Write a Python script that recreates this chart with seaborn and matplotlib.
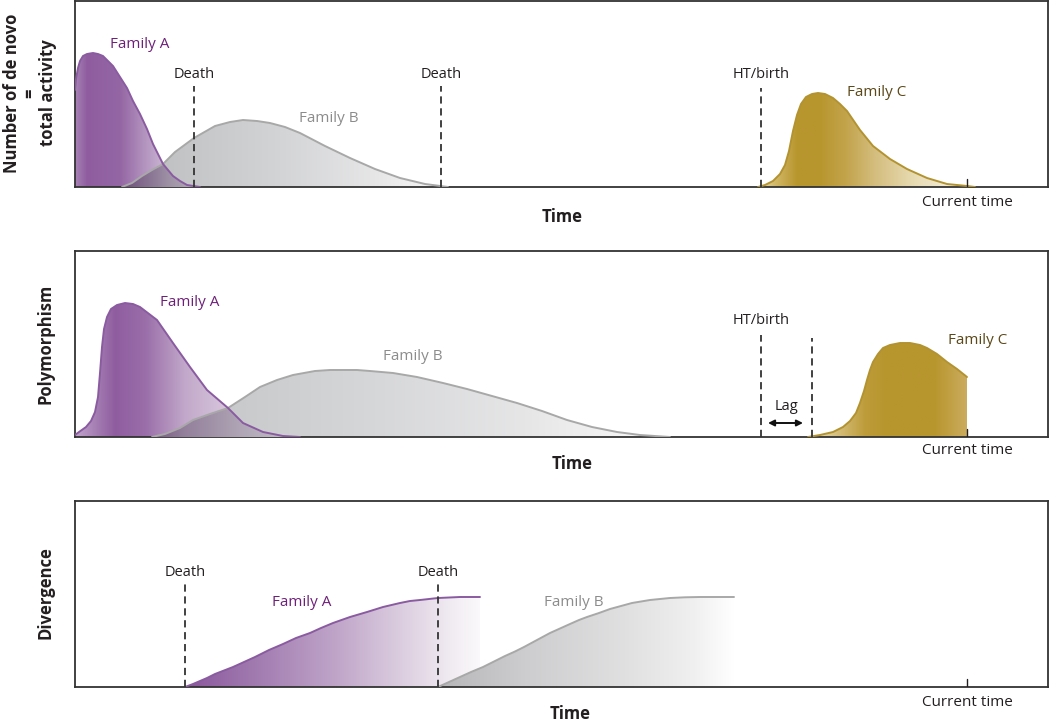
import numpy as np
import matplotlib
matplotlib.use("Agg")
import matplotlib.pyplot as plt
import matplotlib.colors as mcolors
from matplotlib.patches import Polygon
import seaborn as sns

# time axis runs 0..973, curve heights 0..186 (arbitrary units)
# panel 1: number of de novo insertions = total activity
a1_t = [0, 1, 3, 5, 8, 12, 18, 23, 28, 33, 38, 45, 52, 58, 65, 72, 78, 88, 98, 105, 112, 125]
a1_v = [97, 108, 119, 126, 131, 133, 134, 133, 131, 126, 121, 110, 99, 86, 73, 58, 43, 23, 11, 6, 2, 0]
b1_t = [47, 57, 67, 77, 88, 100, 119, 140, 155, 168, 182, 195, 210, 225, 250, 275, 300, 325, 350, 373]
b1_v = [0, 4, 11, 17, 23, 35, 49, 61, 65, 67, 66, 64, 60, 54, 41, 29, 18, 9, 3, 0]
c1_t = [683, 690, 698, 705, 710, 714, 718, 722, 726, 731, 737, 743, 750, 758, 765, 772, 785, 798, 815,
        832, 852, 872, 892, 900]
c1_v = [0, 2, 6, 13, 22, 36, 56, 72, 83, 90, 93, 94, 93, 89, 83, 76, 57, 41, 28, 18, 9, 3, 1, 0]
ab1_cross = 88
p1_deaths = [119, 366]
p1_birth = [686]

# panel 2: polymorphism
a2_t = [0, 4, 11, 16, 20, 23, 25, 27, 29, 32, 36, 42, 50, 58, 65, 82, 98, 115, 132, 153, 168, 188, 208, 225]
a2_v = [2, 5, 10, 16, 25, 40, 64, 90, 108, 120, 128, 132, 134, 133, 130, 117, 94, 70, 47, 29, 14, 5, 1, 0]
b2_t = [77, 90, 105, 118, 135, 153, 170, 185, 202, 218, 240, 255, 268, 282, 295, 318, 342, 368, 392, 417,
        442, 467, 492, 517, 542, 565, 595]
b2_v = [0, 3, 9, 17, 23, 29, 40, 50, 57, 62, 66, 67, 67, 67, 66, 64, 60, 54, 48, 41, 34, 26, 17, 10, 5, 2, 0]
c2_t = [733, 745, 758, 768, 775, 781, 785, 789, 792, 795, 798, 803, 808, 815, 825, 835, 845, 852, 862, 872,
        882, 892]
c2_v = [0, 2, 5, 10, 16, 24, 34, 46, 57, 67, 75, 83, 89, 92, 94, 94, 92, 89, 83, 75, 68, 60]
ab2_cross = 153
p2_birth = [686, 737]

# panel 3: divergence
a3_t = [110, 118, 125, 132, 140, 149, 158, 169, 180, 194, 208, 221, 235, 246, 258, 275, 292, 308, 325,
        335, 345, 354, 363, 374, 385, 395, 405]
a3_v = [0, 3, 6, 9, 13, 16.5, 20, 25, 30, 37, 43, 49, 54, 59, 64, 70, 75, 80, 84, 86, 87, 88, 89, 89.5,
        90, 90, 90]
b3_t = [363, 374, 385, 396, 408, 419, 430, 440, 449, 462, 475, 485, 495, 504, 512, 524, 535, 546, 557,
        566, 575, 585, 595, 610, 625, 642, 659]
b3_v = [0, 5, 10, 15, 20, 25.5, 31, 35.5, 40, 47, 54, 58.5, 63, 67, 70, 74, 78, 81, 84, 85.5, 87, 88, 89,
        89.7, 90, 90, 90]
p3_deaths = [110, 363]

current_time = 892

PURPLE_LINE = '#8a5ba0'
GRAY_LINE = '#a8a8a8'
GOLD_LINE = '#b39330'
PURPLE_TXT = '#6e2179'
GRAY_TXT = '#8c8c8c'
GOLD_TXT = '#5c4818'
INK = '#231f20'


def ramp(stops, cols):
    pos = [p for p, _ in stops]
    rgb = np.array([mcolors.to_rgb(c) for _, c in stops])
    return np.stack([np.interp(cols, pos, rgb[:, k]) for k in range(3)], axis=-1)


def gradient_fill(ax, xs, ys, colorfn, z=1):
    verts = [(xs[0], 0)] + list(zip(xs, ys)) + [(xs[-1], 0)]
    poly = Polygon(verts, closed=True, facecolor='none', edgecolor='none')
    ax.add_patch(poly)
    cols = np.linspace(xs[0], xs[-1], 500)
    img = colorfn(cols)[None, :, :]
    im = ax.imshow(img, extent=(xs[0], xs[-1], 0, max(ys) + 1), aspect='auto',
                   origin='lower', zorder=z, interpolation='bilinear')
    im.set_clip_path(poly)


def overlap_fill(ax, at, av, bt, bv, cross, a_stops, b_stops, z=3):
    xs = [t for t in bt if t <= cross] + [t for t in at if t > cross]
    ys = [v for t, v in zip(bt, bv) if t <= cross] + [v for t, v in zip(at, av) if t > cross]
    gradient_fill(ax, xs, ys, lambda c: ramp(a_stops, c) * ramp(b_stops, c), z)


def dashed(ax, xs, top):
    for x in xs:
        ax.plot([x, x], [0, top], color='#333333', lw=1.3, ls=(0, (4, 2.6)), zorder=6)


def now_tick(ax, label_y):
    ax.plot([current_time, current_time], [0, 8], color=INK, lw=1.0, zorder=6)
    ax.text(current_time, label_y, 'Current time', ha='center', va='center',
            fontsize=11, color=INK, clip_on=False)


def curve(ax, t, v, color):
    sns.lineplot(x=t, y=v, ax=ax, color=color, lw=1.4, estimator=None, sort=False, zorder=5,
                 solid_joinstyle='round', solid_capstyle='round')


sns.set_theme(style='white')
plt.rcParams['font.family'] = ['Open Sans', 'DejaVu Sans']

fig = plt.figure(figsize=(10.5, 7.21), dpi=100)
W, H = 1050, 721
axes = [fig.add_axes([75 / W, (H - 187) / H, 973 / W, 186 / H]),
        fig.add_axes([75 / W, (H - 437) / H, 973 / W, 186 / H]),
        fig.add_axes([75 / W, (H - 687) / H, 973 / W, 186 / H])]

# colour ramps
a1_stops = [(0, '#a884b6'), (12, '#8f5d9f'), (45, '#9466a4'), (70, '#b394bf'), (95, '#d2c0d8'), (125, '#e9e1eb')]
b1_stops = [(47, '#b9b9bb'), (120, '#c6c7c9'), (200, '#d2d3d5'), (300, '#e6e6e7'), (373, '#f8f8f8')]
c1_stops = [(683, '#eadfb9'), (700, '#d2b968'), (722, '#b8962e'), (745, '#b8962e'), (770, '#c2a34a'),
            (800, '#d4bd7e'), (840, '#e8dcb4'), (900, '#fbf8ee')]
a2_stops = [(0, '#c0a4cb'), (22, '#a47cb2'), (40, '#8f5d9f'), (70, '#9a6ea9'), (110, '#c2a8ca'),
            (170, '#e0d3e4'), (225, '#f3eef4')]
b2_stops = [(77, '#bdbdbf'), (160, '#c9cacc'), (300, '#d6d7d9'), (450, '#e6e6e7'), (595, '#fbfbfb')]
c2_stops = [(733, '#efe6c8'), (760, '#d8c282'), (790, '#bd9c3a'), (810, '#b8962e'), (860, '#b8962e'),
            (892, '#cbac5e')]
a3_stops = [(110, '#8a569b'), (180, '#a17bb0'), (260, '#bfa4c8'), (330, '#ddd0e1'), (380, '#f2edf3'),
            (405, '#fbf9fb')]
b3_stops = [(363, '#b6b6b8'), (450, '#cdcdcf'), (550, '#e0e0e1'), (620, '#f0f0f0'), (659, '#ffffff')]

# panel 1
ax = axes[0]
gradient_fill(ax, a1_t, a1_v, lambda c: ramp(a1_stops, c), 1)
gradient_fill(ax, b1_t, b1_v, lambda c: ramp(b1_stops, c), 2)
overlap_fill(ax, a1_t, a1_v, b1_t, b1_v, ab1_cross, a1_stops, b1_stops)
gradient_fill(ax, c1_t, c1_v, lambda c: ramp(c1_stops, c), 1)
curve(ax, b1_t, b1_v, GRAY_LINE)
curve(ax, a1_t, a1_v, PURPLE_LINE)
curve(ax, c1_t, c1_v, GOLD_LINE)
dashed(ax, p1_deaths, 101)
dashed(ax, p1_birth, 99)
for x in p1_deaths:
    ax.text(x, 113, 'Death', ha='center', va='center', fontsize=10.5, color=INK)
ax.text(p1_birth[0], 113, 'HT/birth', ha='center', va='center', fontsize=10.5, color=INK)
ax.text(65, 142, 'Family A', ha='center', va='center', fontsize=11, color=PURPLE_TXT)
ax.text(254, 69, 'Family B', ha='center', va='center', fontsize=11, color=GRAY_TXT)
ax.text(802, 94, 'Family C', ha='center', va='center', fontsize=11, color=GOLD_TXT)
now_tick(ax, -15)
ax.text(487, -30, 'Time', ha='center', va='center', fontsize=12, fontweight='bold', color=INK)

# panel 2
ax = axes[1]
gradient_fill(ax, a2_t, a2_v, lambda c: ramp(a2_stops, c), 1)
gradient_fill(ax, b2_t, b2_v, lambda c: ramp(b2_stops, c), 2)
overlap_fill(ax, a2_t, a2_v, b2_t, b2_v, ab2_cross, a2_stops, b2_stops)
gradient_fill(ax, c2_t, c2_v, lambda c: ramp(c2_stops, c), 1)
curve(ax, b2_t, b2_v, GRAY_LINE)
curve(ax, a2_t, a2_v, PURPLE_LINE)
curve(ax, c2_t, c2_v, GOLD_LINE)
dashed(ax, p2_birth[:1], 102)
dashed(ax, p2_birth[1:], 99)
ax.text(p2_birth[0], 116, 'HT/birth', ha='center', va='center', fontsize=10.5, color=INK)
ax.annotate('', xy=(p2_birth[1] - 9, 14), xytext=(p2_birth[0] + 7, 14),
            arrowprops=dict(arrowstyle='<|-|>', color='#111111', lw=1.4, mutation_scale=9,
                            shrinkA=0, shrinkB=0))
ax.text((p2_birth[0] + p2_birth[1]) / 2, 30, 'Lag', ha='center', va='center', fontsize=10.5, color=INK)
ax.text(115, 134, 'Family A', ha='center', va='center', fontsize=11, color=PURPLE_TXT)
ax.text(338, 80, 'Family B', ha='center', va='center', fontsize=11, color=GRAY_TXT)
ax.text(903, 97, 'Family C', ha='center', va='center', fontsize=11, color=GOLD_TXT)
now_tick(ax, -14)
ax.text(497, -27, 'Time', ha='center', va='center', fontsize=12, fontweight='bold', color=INK)

# panel 3
ax = axes[2]
gradient_fill(ax, a3_t, a3_v, lambda c: ramp(a3_stops, c), 1)
gradient_fill(ax, b3_t, b3_v, lambda c: ramp(b3_stops, c), 2)
curve(ax, a3_t, a3_v, PURPLE_LINE)
curve(ax, b3_t, b3_v, GRAY_LINE)
dashed(ax, p3_deaths, 103)
for x in p3_deaths:
    ax.text(x, 115, 'Death', ha='center', va='center', fontsize=10.5, color=INK)
ax.text(227, 84, 'Family A', ha='center', va='center', fontsize=11, color=PURPLE_TXT)
ax.text(499, 84, 'Family B', ha='center', va='center', fontsize=11, color=GRAY_TXT)
now_tick(ax, -15)
ax.text(495, -27, 'Time', ha='center', va='center', fontsize=12, fontweight='bold', color=INK)

for ax in axes:
    ax.set_xlim(0, 973)
    ax.set_ylim(0, 186)
    ax.set_xticks([])
    ax.set_yticks([])
    ax.set_xlabel('')
    ax.set_ylabel('')
    for sp in ax.spines.values():
        sp.set_visible(True)
        sp.set_color('#333333')
        sp.set_linewidth(1.3)

fig.text(30 / W, 1 - 93 / H, 'Number of de novo\n=\ntotal activity', rotation=90, ha='center',
         va='center', multialignment='center', linespacing=1.0, fontsize=12, fontweight='bold', color=INK)
fig.text(46 / W, 1 - 344 / H, 'Polymorphism', rotation=90, ha='center', va='center',
         fontsize=12, fontweight='bold', color=INK)
fig.text(46 / W, 1 - 593 / H, 'Divergence', rotation=90, ha='center', va='center',
         fontsize=12, fontweight='bold', color=INK)

fig.savefig('out.png', dpi=100)
